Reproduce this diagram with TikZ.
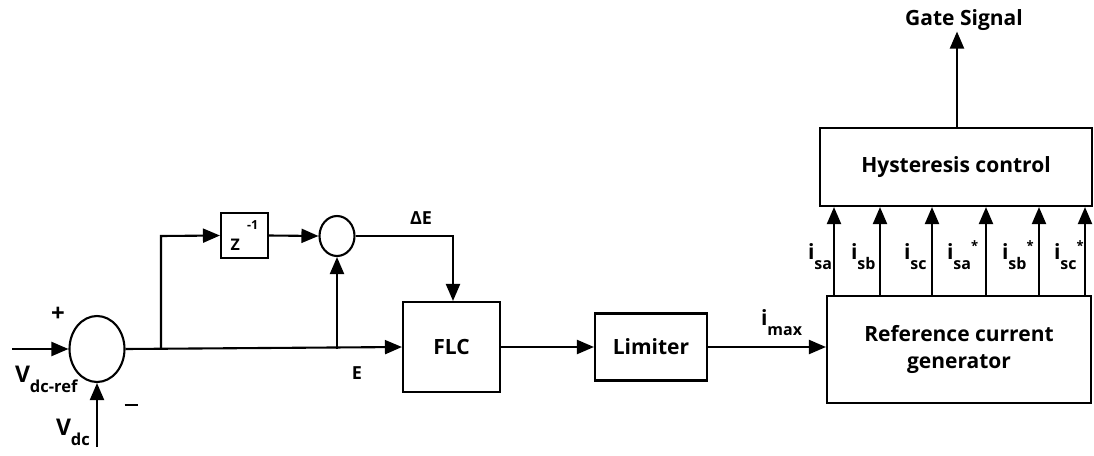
\documentclass[tikz,border=0pt]{standalone}
\usepackage{fontspec}
\setmainfont{Open Sans}
\usetikzlibrary{arrows.meta,shapes.geometric}
\newcommand\lsub[2][16]{\raisebox{-10pt}{\fontsize{#1}{#1}\selectfont #2}}
\newcommand\lsup[1]{\raisebox{9pt}{\fontsize{13}{13}\selectfont #1}}
\begin{document}
\begin{tikzpicture}[x=1pt,y=-1pt,
  line width=2.1pt,
  >={Triangle[length=17pt,width=14pt]},
  blk/.style={draw,line width=2.1pt,inner sep=0pt,font=\bfseries\fontsize{21}{27}\selectfont,align=center},
  sumc/.style={draw,ellipse,line width=2.1pt,inner sep=0pt},
  lbl/.style={font=\bfseries\fontsize{21}{24}\selectfont,inner sep=0pt},
  slbl/.style={font=\bfseries\fontsize{18}{21}\selectfont,inner sep=0pt}]
\useasboundingbox (0,0) rectangle (1094,455);
% blocks
\node[sumc,minimum width=55pt,minimum height=66pt] (s1) at (97,349) {};
\node[sumc,minimum width=35pt,minimum height=40pt] (s2) at (337,236) {};
\node[blk,minimum width=47pt,minimum height=45pt] (z) at (244.5,235.5) {};
\node[slbl,anchor=base west,font=\bfseries\fontsize{16}{18}\selectfont] at (229.5,250.5) {Z};
\node[slbl,anchor=base west,font=\bfseries\fontsize{12.5}{14}\selectfont] at (246,229) {-1};
\node[blk,minimum width=97pt,minimum height=90pt] (flc) at (451.5,347) {FLC};
\node[blk,minimum width=112pt,minimum height=67pt] (lim) at (651,347) {Limiter};
\node[blk,minimum width=264pt,minimum height=107pt] (rcg) at (959,349.5) {Reference current\\generator};
\node[blk,minimum width=272pt,minimum height=78pt] (hys) at (956,167) {Hysteresis control};
\node[lbl] (gate) at (964,20) {Gate Signal};
% coordinates
\coordinate (in) at (12,349);
\coordinate (vdc) at (97,447);
\coordinate (b1) at (161,349);
\coordinate (b1t) at (161,236);
\coordinate (b2) at (337,349);
\coordinate (de) at (453,236);
\coordinate (gx) at (957,0);
% connectors
\draw[->] (in) -- (s1.west);
\draw[->] (vdc) -- (s1.south);
\draw[->] (s1.east) -- (flc.west);
\draw[->] (b1) -- (b1t) -- (z.west);
\draw[->] (z.east) -- (s2.west);
\draw[->] (b2) -- (s2.south);
\draw[->] (s2.east) -- (de) -- (de |- flc.north);
\draw[->] (flc.east) -- (lim.west);
\draw[->] (lim.east) -- (rcg.west |- lim.east);
\draw[->] (hys.north -| gx) -- (gx |- gate.south);
\foreach \xx in {834,880,932,986,1039,1085}{
  \draw[->] (rcg.north -| \xx,0) -- (hys.south -| \xx,0);
}
% labels
\node[lbl,font=\bfseries\fontsize{24}{26}\selectfont] at (58,314) {+};
\node[lbl] at (131,405) {\rule{13pt}{2.2pt}};
\node[lbl,anchor=base west,font=\bfseries\fontsize{23}{26}\selectfont] at (14,382) {V\lsub[16.5]{dc-ref}};
\node[lbl,anchor=base west,font=\bfseries\fontsize{23}{26}\selectfont] at (55,435) {V\lsub[16.5]{dc}};
\node[slbl] at (357,373) {E};
\node[slbl] at (421,218) {ΔE};
\node[lbl,anchor=base west] at (760,325) {i\lsub[16]{max}};
\node[lbl,anchor=base west] at (807,259) {i\lsub{sa}};
\node[lbl,anchor=base west] at (850,259) {i\lsub{sb}};
\node[lbl,anchor=base west] at (903,259) {i\lsub{sc}};
\node[lbl,anchor=base west] at (946,259) {i\lsub{sa}\lsup{*}};
\node[lbl,anchor=base west] at (1001,259) {i\lsub{sb}\lsup{*}};
\node[lbl,anchor=base west] at (1053,259) {i\lsub{sc}\lsup{*}};
\end{tikzpicture}
\end{document}
